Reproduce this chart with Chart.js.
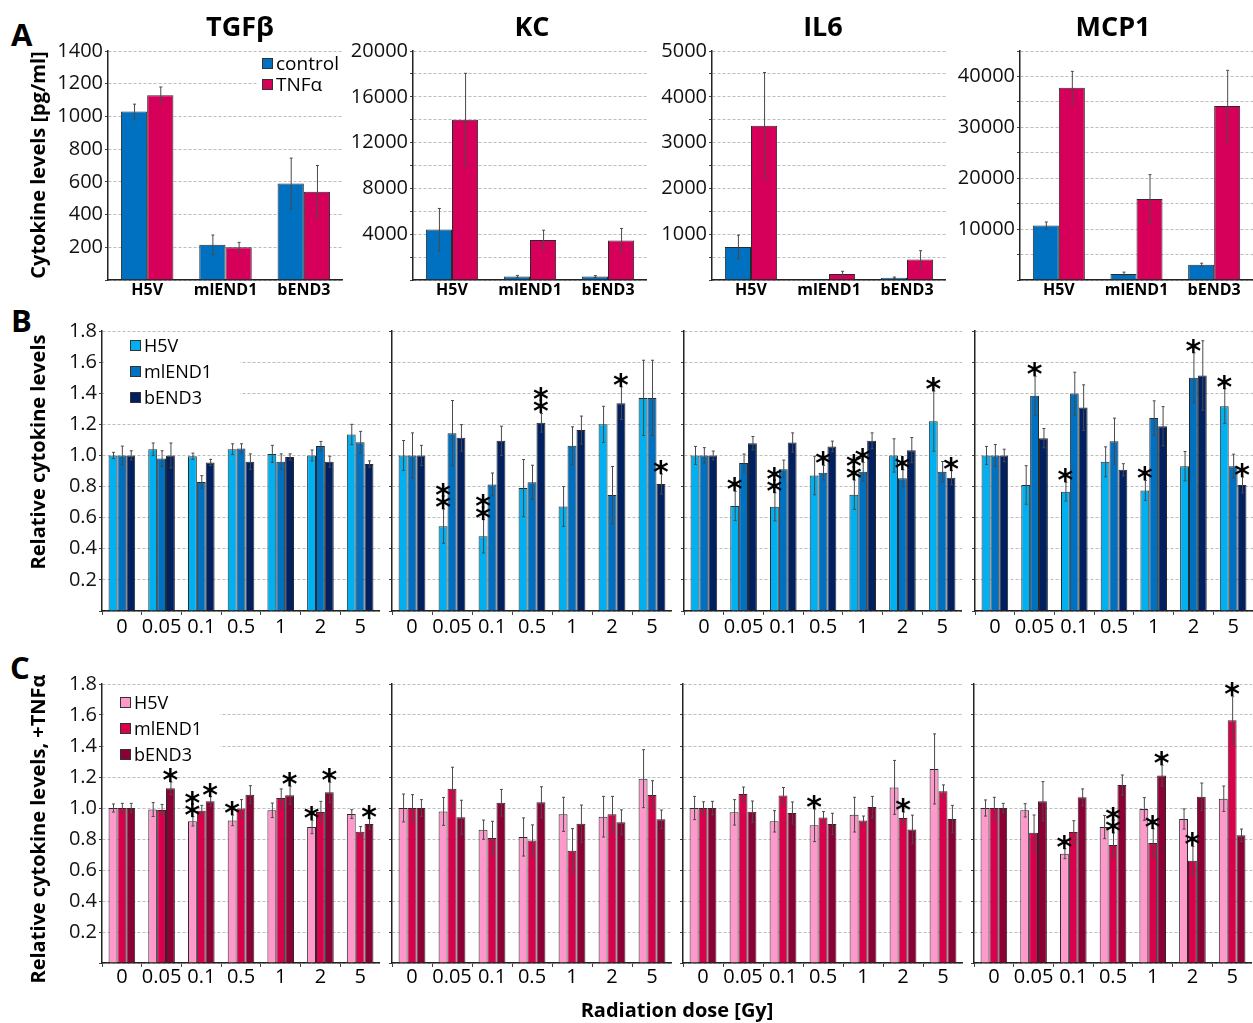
<!DOCTYPE html>
<html><head><meta charset="utf-8">
<script src="https://cdn.jsdelivr.net/npm/chart.js@4.4.1/dist/chart.umd.min.js"></script>
<style>
body{margin:0;background:#fff;width:1253px;height:1023px;position:relative;overflow:hidden;font-family:'Open Sans',sans-serif;}
canvas{position:absolute;}
.t{position:absolute;white-space:nowrap;line-height:1;color:#000;}
.leg{position:absolute;background:#fff;font-family:'Open Sans',sans-serif;color:#000;}
.leg .row{position:absolute;display:flex;align-items:center;white-space:nowrap;}
.leg .b{display:inline-block;width:9px;height:9px;border:1px solid #333;margin-right:3px;}
</style></head><body>
<script>
// ---------- categories ----------
const cellLines = ['H5V','mlEND1','bEND3'];
const doses = ['0','0.05','0.1','0.5','1','2','5'];
const cytokines = ['TGFβ', 'KC', 'IL6', 'MCP1'];

// ---------- Panel A: absolute cytokine levels [pg/ml] (H5V, mlEND1, bEND3) ----------
const tgfbControl = [1030, 215, 590],   tgfbControlErr = [45, 60, 155];
const tgfbTnf     = [1130, 200, 540],   tgfbTnfErr     = [50, 30, 160];
const kcControl   = [4400, 300, 300],   kcControlErr   = [1850, 100, 80];
const kcTnf       = [14000, 3500, 3450],kcTnfErr       = [4050, 850, 1050];
const il6Control  = [720, 5, 50],       il6ControlErr  = [260, 0, 15];
const il6Tnf      = [3370, 130, 450],   il6TnfErr      = [1160, 60, 190];
const mcp1Control = [10700, 1200, 3000],mcp1ControlErr = [700, 350, 300];
const mcp1Tnf     = [37800, 15900, 34200], mcp1TnfErr  = [3200, 4800, 7000];

// ---------- Panel B: relative levels (control) ; rows = H5V, mlEND1, bEND3 ----------
const bTGFb    = [[1.0,1.04,0.995,1.04,1.01,1.0,1.135],[1.0,0.98,0.83,1.045,0.96,1.06,1.085],[1.0,1.0,0.955,0.96,0.99,0.96,0.945]];
const bTGFbErr = [[0.02,0.04,0.02,0.035,0.055,0.035,0.065],[0.06,0.05,0.04,0.03,0.05,0.03,0.07],[0.03,0.08,0.02,0.05,0.02,0.035,0.02]];
const bTGFbSig = [[0,0,0,0,0,0,0],[0,0,0,0,0,0,0],[0,0,0,0,0,0,0]];
const bKC      = [[1.0,0.545,0.48,0.79,0.672,1.2,1.37],[1.0,1.143,0.814,0.827,1.062,0.745,1.37],[1.0,1.113,1.094,1.21,1.163,1.336,0.816]];
const bKCErr   = [[0.096,0.11,0.107,0.184,0.128,0.116,0.242],[0.145,0.21,0.073,0.11,0.122,0.184,0.242],[0.065,0.085,0.094,0.06,0.09,0.105,0.064]];
const bKCSig   = [[0,2,2,0,0,0,0],[0,0,0,0,0,0,0],[0,0,0,2,0,1,1]];
const bIL6     = [[1.0,0.675,0.67,0.871,0.747,1.0,1.22],[1.0,0.951,0.912,0.889,0.895,0.854,0.895],[1.0,1.079,1.083,1.058,1.094,1.034,0.857]];
const bIL6Err  = [[0.058,0.094,0.09,0.124,0.094,0.107,0.193],[0.05,0.058,0.058,0.047,0.06,0.054,0.066],[0.028,0.043,0.062,0.034,0.051,0.081,0.045]];
const bIL6Sig  = [[0,1,2,0,2,0,1],[0,0,0,1,1,1,0],[0,0,0,0,0,0,1]];
const bMCP1    = [[1.0,0.81,0.767,0.959,0.775,0.931,1.317],[1.0,1.383,1.398,1.092,1.24,1.499,0.931],[1.0,1.111,1.308,0.908,1.188,1.514,0.81]];
const bMCP1Err = [[0.058,0.124,0.06,0.096,0.064,0.094,0.111],[0.07,0.126,0.137,0.148,0.111,0.16,0.077],[0.04,0.062,0.146,0.039,0.126,0.223,0.051]];
const bMCP1Sig = [[0,0,1,0,1,0,1],[0,1,0,0,0,1,0],[0,0,0,0,0,0,1]];

// ---------- Panel C: relative levels (+TNFα) ----------
const cTGFb    = [[1.0,0.99,0.914,0.92,0.985,0.877,0.961],[1.0,0.987,0.983,0.996,1.065,0.974,0.847],[1.0,1.127,1.043,1.086,1.082,1.101,0.897]];
const cTGFbErr = [[0.026,0.045,0.03,0.034,0.047,0.043,0.028],[0.03,0.036,0.034,0.058,0.058,0.069,0.034],[0.03,0.04,0.03,0.058,0.058,0.065,0.034]];
const cTGFbSig = [[0,0,2,1,0,1,0],[0,0,0,0,0,0,0],[0,1,1,0,1,1,1]];
const cKC      = [[1.0,0.978,0.86,0.813,0.959,0.944,1.189],[1.0,1.125,0.806,0.791,0.725,0.959,1.084],[1.0,0.94,1.034,1.037,0.899,0.908,0.927]];
const cKCErr   = [[0.09,0.09,0.062,0.123,0.11,0.131,0.187],[0.086,0.138,0.108,0.1,0.142,0.116,0.092],[0.054,0.11,0.086,0.1,0.12,0.08,0.06]];
const cKCSig   = [[0,0,0,0,0,0,0],[0,0,0,0,0,0,0],[0,0,0,0,0,0,0]];
const cIL6     = [[1.0,0.972,0.914,0.888,0.957,1.133,1.252],[1.0,1.09,1.08,0.938,0.92,0.935,1.108],[1.0,0.976,0.968,0.897,1.006,0.862,0.929]];
const cIL6Err  = [[0.075,0.082,0.069,0.105,0.112,0.174,0.226],[0.04,0.045,0.052,0.039,0.028,0.039,0.041],[0.043,0.069,0.071,0.069,0.069,0.092,0.088]];
const cIL6Sig  = [[0,0,0,1,0,0,0],[0,0,0,0,0,1,0],[0,0,0,0,0,0,0]];
const cMCP1    = [[1.0,0.985,0.705,0.877,0.994,0.929,1.06],[1.0,0.841,0.845,0.761,0.774,0.66,1.566],[1.0,1.043,1.069,1.148,1.209,1.073,0.824]];
const cMCP1Err = [[0.052,0.043,0.032,0.075,0.073,0.065,0.082],[0.069,0.114,0.073,0.077,0.092,0.092,0.155],[0.03,0.127,0.054,0.065,0.067,0.088,0.04]];
const cMCP1Sig = [[0,0,1,0,0,0,0],[0,0,0,2,1,1,1],[0,0,0,0,1,0,0]];

// ---------- colours ----------
const colA = ['#0070c0', '#d6005a'];
const colB = ['#00b0f0', '#0070c0', '#002060'];
const colC = ['#ff99cc', '#d9004c', '#8b0035'];

// ---------- plugin: error bars and significance stars ----------
const errPlugin = {
  id: 'errStars',
  afterDatasetsDraw(chart) {
    const ctx = chart.ctx, ys = chart.scales.y;
    chart.data.datasets.forEach((ds, i) => {
      const meta = chart.getDatasetMeta(i);
      meta.data.forEach((bar, j) => {
        const v = ds.data[j], e = ds.errors ? ds.errors[j] : 0;
        const x = bar.x;
        const yt = ys.getPixelForValue(v + e), yb = ys.getPixelForValue(Math.max(v - e, 0));
        if (e > 0) {
          ctx.save();
          ctx.strokeStyle = '#4a4a4a'; ctx.lineWidth = 1;
          ctx.beginPath();
          ctx.moveTo(x + 0.5, yt); ctx.lineTo(x + 0.5, yb);
          ctx.moveTo(x - 1, yt); ctx.lineTo(x + 2, yt);
          ctx.moveTo(x - 1, yb); ctx.lineTo(x + 2, yb);
          ctx.stroke();
          ctx.restore();
        }
        const n = ds.stars ? ds.stars[j] : 0;
        if (n > 0) {
          ctx.save();
          ctx.fillStyle = '#000';
          ctx.font = 'bold 30px "DejaVu Sans"';
          ctx.textAlign = 'center';
          ctx.textBaseline = 'alphabetic';
          for (let k = 0; k < n; k++) {
            const cy = yt - 9 - k * 12;
            ctx.fillText('*', x, cy + 17);
          }
          ctx.restore();
        }
      });
    });
  }
};

function makePanel(o) {
  const yW = 70, padTop = 14, xH = 34;
  const cw = o.right - o.left + yW, ch = o.bottom - o.top + padTop + xH;
  const cv = document.createElement('canvas');
  cv.width = cw; cv.height = ch;
  cv.style.left = (o.left - yW) + 'px'; cv.style.top = (o.top - padTop) + 'px';
  cv.style.width = cw + 'px'; cv.style.height = ch + 'px';
  document.body.appendChild(cv);
  new Chart(cv, {
    type: 'bar',
    data: {
      labels: o.labels,
      datasets: o.series.map(s => ({
        data: s.data, errors: s.err, stars: s.stars,
        backgroundColor: s.color, borderColor: '#2a2a2a', borderWidth: 1,
        categoryPercentage: 0.67, barPercentage: 1
      }))
    },
    options: {
      responsive: false, animation: false,
      layout: { padding: { top: padTop, left: 0, right: 0, bottom: 0 } },
      plugins: { legend: { display: false }, tooltip: { enabled: false } },
      scales: {
        x: {
          offset: true,
          grid: { offset: true, drawOnChartArea: false, drawTicks: o.xTicks, tickLength: 4, tickColor: '#444' },
          border: { color: '#222', width: 1.5 },
          ticks: { font: o.xFont, color: '#000', padding: o.xPad, maxRotation: 0, autoSkip: false },
          afterFit(s) { s.height = xH; }
        },
        y: {
          min: 0, max: o.yMax,
          ticks: { stepSize: o.yStep, display: o.showY, autoSkip: false,
                   font: { family: 'Open Sans', size: 20 }, color: '#111', padding: 2, callback: o.yCb },
          grid: { color: '#bdbdbd', lineWidth: 1, tickLength: 3, tickColor: '#444' },
          border: { color: '#222', width: 1.5, dash: [3, 2] },
          afterFit(s) { s.width = yW; }
        }
      }
    },
    plugins: [errPlugin]
  });
}

const every = (n) => (v) => (v > 0 && Math.abs(v % n) < 1e-6) ? String(v) : '';
const rel = (v) => v > 0.001 ? v.toFixed(1) : '';
const fontA = { family: 'Open Sans', size: 16, weight: 'bold' };
const fontBC = { family: 'Open Sans', size: 20 };

// Row A
const aPanels = [
  { left: 108, right: 343, c: tgfbControl, ce: tgfbControlErr, t: tgfbTnf, te: tgfbTnfErr, max: 1400, step: 200, cb: every(200) },
  { left: 413, right: 647, c: kcControl, ce: kcControlErr, t: kcTnf, te: kcTnfErr, max: 20000, step: 2000, cb: every(4000) },
  { left: 712, right: 946, c: il6Control, ce: il6ControlErr, t: il6Tnf, te: il6TnfErr, max: 5000, step: 500, cb: every(1000) },
  { left: 1020, right: 1253, c: mcp1Control, ce: mcp1ControlErr, t: mcp1Tnf, te: mcp1TnfErr, max: 45000, step: 5000, cb: every(10000) }
];
aPanels.forEach(p => makePanel({
  left: p.left, right: p.right, top: 51, bottom: 280, labels: cellLines,
  series: [{ data: p.c, err: p.ce, color: colA[0] }, { data: p.t, err: p.te, color: colA[1] }],
  yMax: p.max, yStep: p.step, yCb: p.cb, showY: true, xTicks: false, xFont: fontA, xPad: 1
}));

function relPanel(left, right, top, bottom, vals, errs, sig, cols, showY, xPad) {
  makePanel({
    left, right, top, bottom, labels: doses,
    series: [0, 1, 2].map(i => ({ data: vals[i], err: errs[i], stars: sig[i], color: cols[i] })),
    yMax: 1.8, yStep: 0.2, yCb: rel, showY, xTicks: true, xFont: fontBC, xPad
  });
}
// Row B
relPanel(102, 380, 331, 611, bTGFb, bTGFbErr, bTGFbSig, colB, true, 0);
relPanel(392, 672, 331, 611, bKC, bKCErr, bKCSig, colB, false, 0);
relPanel(684, 962, 331, 611, bIL6, bIL6Err, bIL6Sig, colB, false, 0);
relPanel(975, 1253, 331, 611, bMCP1, bMCP1Err, bMCP1Sig, colB, false, 0);
// Row C
relPanel(102, 380, 684, 963, cTGFb, cTGFbErr, cTGFbSig, colC, true, -2);
relPanel(392, 672, 684, 963, cKC, cKCErr, cKCSig, colC, false, -2);
relPanel(683, 963, 684, 963, cIL6, cIL6Err, cIL6Sig, colC, false, -2);
relPanel(974, 1252, 684, 963, cMCP1, cMCP1Err, cMCP1Sig, colC, false, -2);

// ---------- text ----------
function text(str, x, baseline, size, bold, align) {
  const d = document.createElement('div');
  d.className = 't';
  d.textContent = str;
  d.style.fontSize = size + 'px';
  d.style.fontWeight = bold ? 'bold' : 'normal';
  d.style.top = (baseline - 0.888 * size) + 'px';
  d.style.left = x + 'px';
  if (align === 'center') d.style.transform = 'translateX(-50%)';
  document.body.appendChild(d);
}
function vtext(str, cx, cy, size) {
  const d = document.createElement('div');
  d.className = 't';
  d.textContent = str;
  d.style.fontSize = size + 'px';
  d.style.fontWeight = 'bold';
  d.style.left = cx + 'px'; d.style.top = cy + 'px';
  d.style.transform = 'translate(-50%,-50%) rotate(-90deg)';
  document.body.appendChild(d);
}
text('A', 11, 47, 31, true);
text('B', 11, 333, 31, true);
text('C', 10, 680, 31, true);
const titleX = [240, 532, 823, 1113];
cytokines.forEach((c, i) => text(c, titleX[i], 36, 27, true, 'center'));
vtext('Cytokine levels [pg/ml]', 38, 165, 20);
vtext('Relative cytokine levels', 38, 452, 20);
vtext('Relative cytokine levels, +TNFα', 38, 829, 20);
text('Radiation dose [Gy]', 677, 1018, 20, true, 'center');

function legend(box, items, cols, boxX, rowY0, rowH, size) {
  const L = document.createElement('div');
  L.className = 'leg';
  L.style.left = box[0] + 'px'; L.style.top = box[1] + 'px';
  L.style.width = box[2] + 'px'; L.style.height = box[3] + 'px';
  items.forEach((it, i) => {
    const r = document.createElement('div');
    r.className = 'row';
    r.style.left = (boxX - box[0]) + 'px';
    r.style.top = (rowY0 - box[1] + i * rowH - rowH / 2) + 'px';
    r.style.height = rowH + 'px';
    r.style.fontSize = size + 'px';
    const b = document.createElement('span');
    b.className = 'b'; b.style.background = cols[i];
    r.appendChild(b);
    r.appendChild(document.createTextNode(it));
    L.appendChild(r);
  });
  document.body.appendChild(L);
}
legend([258, 53, 84, 42], ['control', 'TNFα'], colA, 262, 63, 21, 19);
legend([104, 334, 136, 72], cellLines, colB, 130, 345, 26, 18);
legend([104, 689, 116, 76], cellLines, colC, 120, 702, 26, 18);
</script>
</body></html>
